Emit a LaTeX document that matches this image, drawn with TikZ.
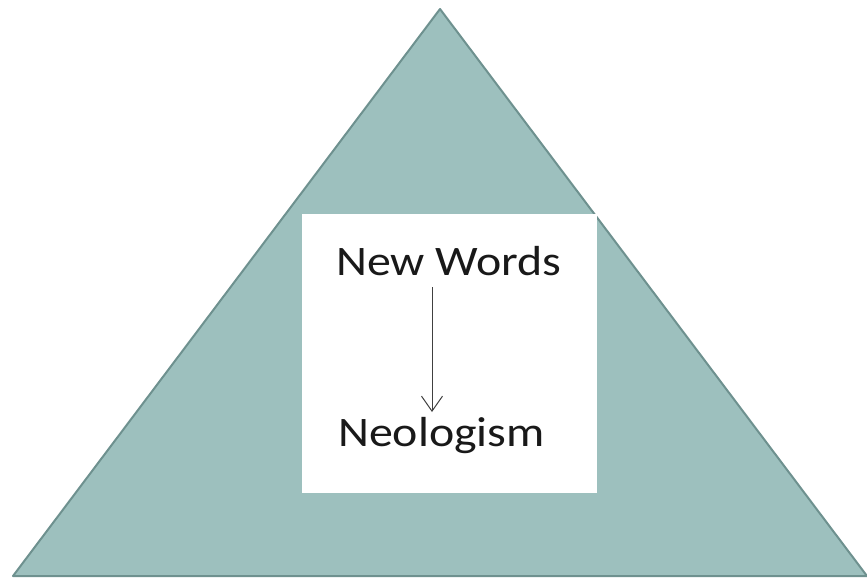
\documentclass[tikz,border=0pt]{standalone}
\usepackage{fontspec}
\setmainfont{Carlito}
\newfontfamily\widefont[FakeStretch=1.14]{Carlito}
\usetikzlibrary{arrows.meta}
\definecolor{trifill}{HTML}{9DC0BE}
\definecolor{triedge}{HTML}{6E918F}
\tikzset{
  label text/.style={font=\widefont\fontsize{42}{48}\selectfont, text=black!90, inner sep=0pt, anchor=base west},
  conn/.style={draw=black!75, line width=1pt, -{Straight Barb[length=15pt,width=21pt,line width=1pt]}}
}
\begin{document}
\begin{tikzpicture}[x=1pt,y=-1pt]
\useasboundingbox (0,0) rectangle (867,579);
\coordinate (apex) at (440,9);
\coordinate (bl) at (13,576);
\coordinate (br) at (867,576);
\filldraw[fill=trifill, draw=triedge, line width=2pt, line join=round] (apex) -- (br) -- (bl) -- cycle;
\node[fill=white, minimum width=295pt, minimum height=279pt, inner sep=0pt] (box) at (449.5,353.5) {};
\node[label text] (nw) at (336,275) {New Words};
\node[label text] (neo) at (338,446) {Neologism};
\coordinate (a1) at (432,287);
\coordinate (a2) at (432,412);
\draw[conn] (a1) -- (a2);
\end{tikzpicture}
\end{document}
